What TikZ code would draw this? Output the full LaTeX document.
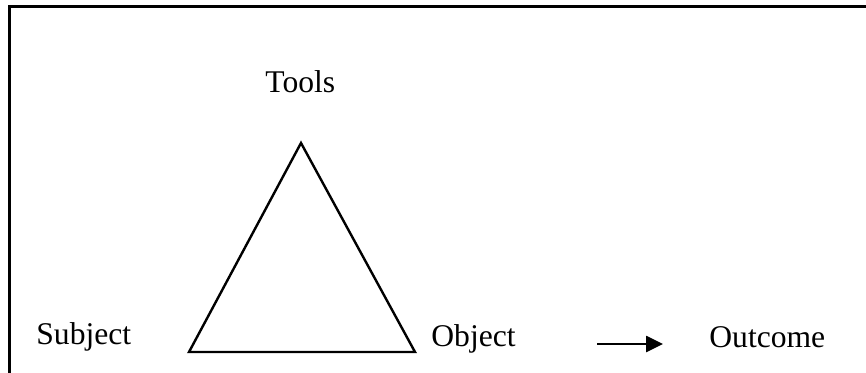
\documentclass[tikz,border=0pt]{standalone}
\usepackage{fontspec}
\setmainfont{Liberation Serif}
\usetikzlibrary{arrows.meta}
\begin{document}
\begin{tikzpicture}[x=0.5pt,y=-0.5pt,
  lbl/.style={anchor=base west,inner sep=0pt,font=\fontsize{15.8pt}{18pt}\selectfont},
  frame/.style={line width=1.5pt},
  tri/.style={line width=1.2pt,line join=miter},
  arr/.style={line width=1.3pt,-{Triangle[length=8.5pt,width=8pt]}}]
\useasboundingbox (0,0) rectangle (866,373);
\draw[frame] (9,373) -- (9,7) -- (866,7);
\node[lbl] (tools) at (265,93) {Tools};
\node[lbl] (subject) at (36,344) {Subject};
\node[lbl] (object) at (431,346) {Object};
\node[lbl] (outcome) at (709,347) {Outcome};
\coordinate (apex) at (301,143);
\coordinate (bl) at (189,352);
\coordinate (br) at (415,352);
\draw[tri] (apex) -- (bl) -- (br) -- cycle;
\coordinate (a1) at (597,344);
\coordinate (a2) at (663,344);
\draw[arr] (a1) -- (a2);
\end{tikzpicture}
\end{document}
